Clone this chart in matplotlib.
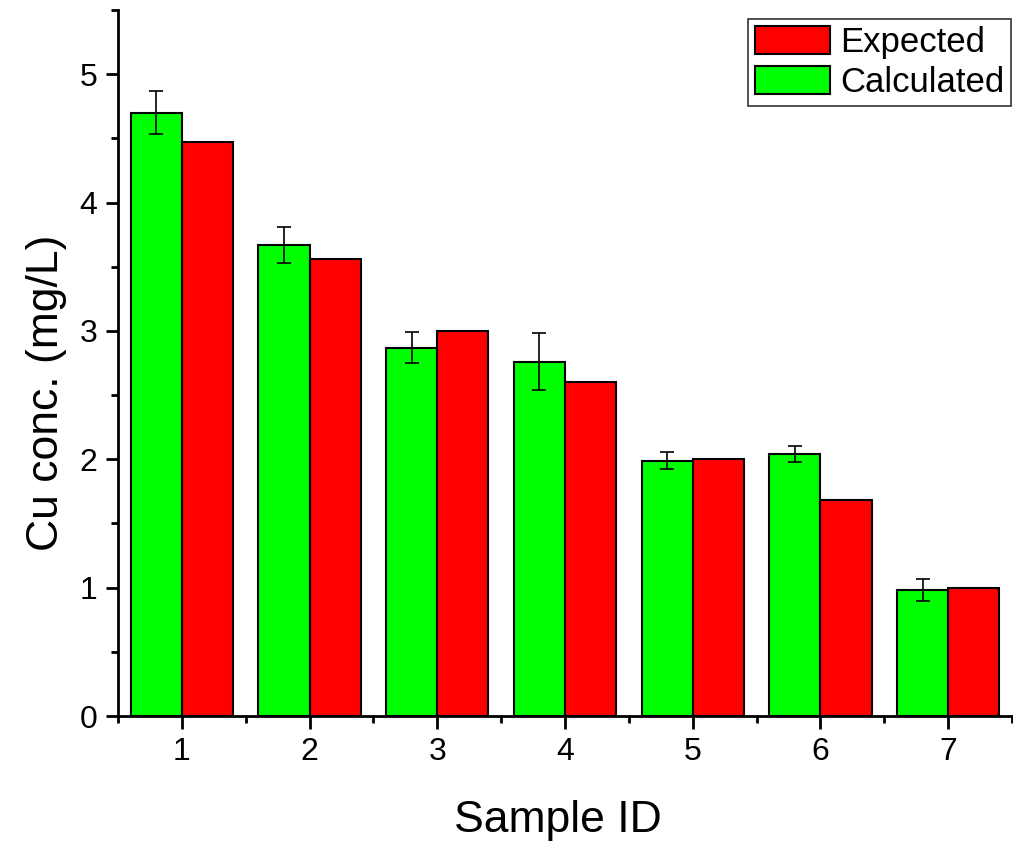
import matplotlib.pyplot as plt
import numpy as np
from matplotlib.ticker import MultipleLocator

plt.rcParams["font.family"] = ["Liberation Sans", "DejaVu Sans"]

samples = [1, 2, 3, 4, 5, 6, 7]
calculated = [4.70, 3.67, 2.87, 2.76, 1.99, 2.04, 0.98]
calculated_err = [0.167, 0.143, 0.12, 0.224, 0.067, 0.06, 0.087]
expected = [4.47, 3.56, 3.00, 2.60, 2.00, 1.68, 1.00]

x = np.array(samples)
w = 0.4

fig = plt.figure(figsize=(10.13, 8.43), dpi=100)
ax = fig.add_axes([118 / 1013, 127 / 843, 894 / 1013, 706 / 843])

b_calc = ax.bar(x - w / 2, calculated, w, color="#00ff00", edgecolor="black",
                lw=1.5, label="Calculated", zorder=2)
b_exp = ax.bar(x + w / 2, expected, w, color="#ff0000", edgecolor="black",
               lw=1.5, label="Expected", zorder=2)
ax.errorbar(x - w / 2, calculated, yerr=calculated_err, fmt="none",
            ecolor="black", elinewidth=1.2, capsize=5, capthick=1.2, zorder=3)

ax.set_xlim(0.5, 7.5)
ax.set_ylim(0, 5.5)
ax.set_xticks(samples)
ax.xaxis.set_minor_locator(MultipleLocator(0.5))
ax.yaxis.set_major_locator(MultipleLocator(1))
ax.yaxis.set_minor_locator(MultipleLocator(0.5))

for s in ["top", "right"]:
    ax.spines[s].set_visible(False)
for s in ["left", "bottom"]:
    ax.spines[s].set_linewidth(2)

ax.tick_params(which="major", direction="out", length=9, width=2,
               labelsize=23, pad=6)
ax.tick_params(which="minor", direction="out", length=5, width=2)

ax.set_xlabel("Sample ID", fontsize=32, labelpad=24)
ax.set_ylabel("Cu conc. (mg/L)", fontsize=32, labelpad=9)
ax.xaxis.label.set_x(0.492)
ax.yaxis.label.set_y(0.4575)

leg = ax.legend([b_exp, b_calc], ["Expected", "Calculated"],
                loc="upper left", bbox_to_anchor=(748 / 1013, 1 - 19 / 843),
                bbox_transform=fig.transFigure,
                fontsize=25, frameon=True, fancybox=False,
                handlelength=2.15, handleheight=0.85, handletextpad=0.3,
                borderpad=0.2, labelspacing=0.2, borderaxespad=0)
leg.get_frame().set_edgecolor("black")
leg.get_frame().set_linewidth(1.2)

fig.savefig("out.png", dpi=100)
